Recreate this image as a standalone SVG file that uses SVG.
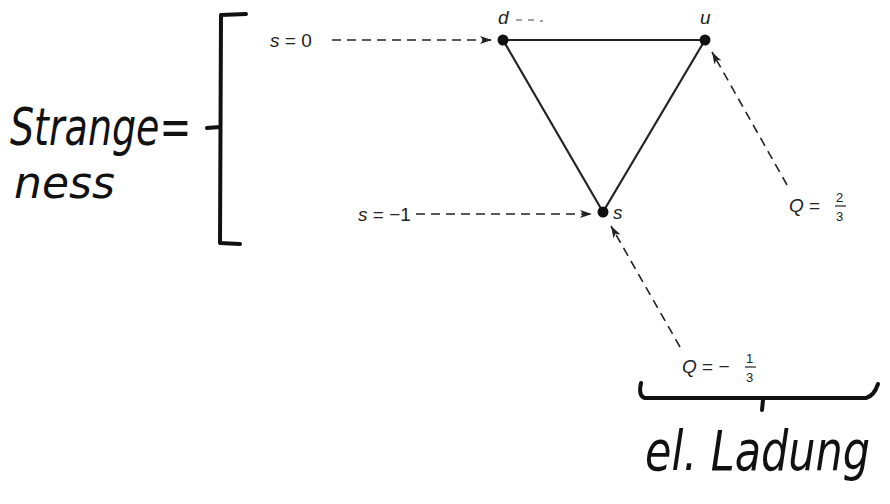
<svg xmlns="http://www.w3.org/2000/svg" width="890" height="504" viewBox="0 0 890 504">
<style>
.lbl{font-family:"Liberation Sans",Arial,sans-serif;font-size:19px;fill:#222}
.fr{font-family:"Liberation Sans",Arial,sans-serif;font-size:13px;fill:#222}
.it{font-style:italic}
.hand{font-family:"DejaVu Sans","Liberation Sans",sans-serif;fill:#111;font-style:italic}
.edge{stroke:#222;stroke-width:2.2;fill:none}
.dash{stroke:#222;stroke-width:1.6;fill:none;stroke-dasharray:9 6;marker-end:url(#ah)}
.pen{stroke:#111;stroke-width:4;fill:none;stroke-linecap:round;stroke-linejoin:round}
</style>
<defs>
<marker id="ah" viewBox="0 0 12 8" refX="12" refY="4" markerWidth="12" markerHeight="8" markerUnits="userSpaceOnUse" orient="auto">
<path d="M0,0 L12,4 L0,8 L3,4 Z" fill="#222"/>
</marker>
</defs>
<rect width="890" height="504" fill="#fff"/>
<g id="connectors">
<line class="edge" x1="503" y1="40" x2="705" y2="40"/>
<line class="edge" x1="503" y1="40" x2="603" y2="212"/>
<line class="edge" x1="705" y1="40" x2="603" y2="212"/>
<line class="dash" x1="332" y1="40" x2="492" y2="40"/>
<line class="dash" x1="416" y1="214" x2="592" y2="214"/>
<line class="dash" x1="787" y1="185" x2="712" y2="52"/>
<line class="dash" x1="680" y1="347" x2="611" y2="226"/>
</g>
<g id="node-d">
<circle cx="503" cy="40" r="5.5" fill="#111"/>
<text class="lbl it" x="498" y="24">d</text>
<path d="M516 20 h6 M528 20 h6 M540 21 h3" stroke="#444" stroke-width="1.2"/>
</g>
<g id="node-u">
<circle cx="705" cy="40" r="5.5" fill="#111"/>
<text class="lbl it" x="700" y="24">u</text>
</g>
<g id="node-s">
<circle cx="603" cy="212" r="5.5" fill="#111"/>
<text class="lbl it" x="613" y="219">s</text>
</g>
<g id="label-s0">
<text class="lbl" x="270" y="47"><tspan class="it">s</tspan> = 0</text>
</g>
<g id="label-s-1">
<text class="lbl" x="358" y="221"><tspan class="it">s</tspan> = −1</text>
</g>
<g id="label-Q23">
<text class="lbl" x="789" y="212"><tspan class="it">Q</tspan> =</text>
<text class="fr" x="836" y="202">2</text>
<line x1="835" y1="206" x2="846" y2="206" stroke="#222" stroke-width="1.2"/>
<text class="fr" x="836" y="221">3</text>
</g>
<g id="label-Q13">
<text class="lbl" x="682" y="373"><tspan class="it">Q</tspan> = −</text>
<text class="fr" x="746" y="363">1</text>
<line x1="745" y1="367" x2="756" y2="367" stroke="#222" stroke-width="1.2"/>
<text class="fr" x="746" y="382">3</text>
</g>
<g id="strangeness">
<path class="pen" d="M246 14 L221 15 L220 243 L240 244 M207 128 L220 127"/>
<text class="hand" transform="translate(10,145) scale(1,1.35)" style="font-size:38px">Strange=</text>
<text class="hand" x="14" y="198" style="font-size:44px">ness</text>
</g>
<g id="ladung">
<path class="pen" d="M641 383 Q638 396 645 398 L866 398 Q874 396 878 384 M763 400 L762 410"/>
<text class="hand" transform="translate(645,470) scale(1,1.3)" style="font-size:43px">el. Ladung</text>
</g>
</svg>
